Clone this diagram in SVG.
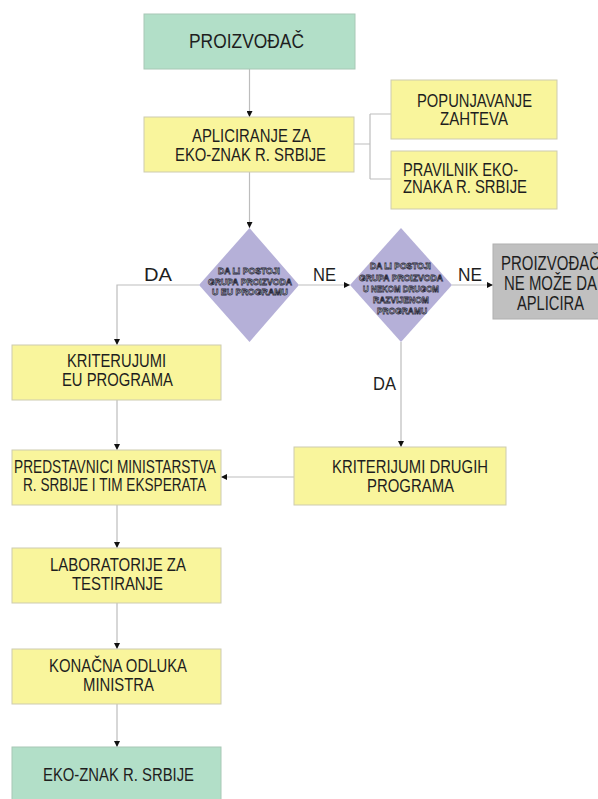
<svg xmlns="http://www.w3.org/2000/svg" width="598" height="799" viewBox="0 0 598 799">
  <style>
    .box { fill: #f9f59c; stroke: #cdcbb0; stroke-width: 1; }
    .green { fill: #b2dfc8; stroke: #a8c8b6; stroke-width: 1; }
    .gray { fill: #c0c0c0; stroke: #b0b0b0; stroke-width: 1; }
    .dia { fill: #b5b0d8; stroke: none; }
    .t { font-family: "Liberation Sans", Arial, sans-serif; fill: #1e1e1e; text-anchor: middle; }
    .tl { font-family: "Liberation Sans", Arial, sans-serif; fill: #1e1e1e; }
    .m { font-size: 18px; }
    .d { font-family: "Liberation Sans", Arial, sans-serif; font-size: 9.5px; font-weight: bold; fill: #fafaff; stroke: #2a2a3c; stroke-width: 0.8; text-anchor: middle; }
    .lbl { font-family: "Liberation Sans", Arial, sans-serif; font-size: 18.5px; fill: #1e1e1e; }
    .ln { fill: none; stroke: #bdbdbd; stroke-width: 1.2; }
  </style>
  <defs>
    <marker id="arr" markerWidth="7" markerHeight="6" refX="6" refY="3" orient="auto" markerUnits="userSpaceOnUse">
      <path d="M0,0 L6,3 L0,6 Z" fill="#111"/>
    </marker>
  </defs>

  <g id="connectors">
    <line class="ln" x1="249.5" y1="69" x2="249.5" y2="117" marker-end="url(#arr)"/>
    <path class="ln" d="M354,144 H370 M370,114 V179 M370,114 H391 M370,179 H391"/>
    <line class="ln" x1="249.5" y1="172" x2="249.5" y2="228" marker-end="url(#arr)"/>
    <path class="ln" d="M199,285 H117 V345" marker-end="url(#arr)"/>
    <line class="ln" x1="299" y1="285" x2="350" y2="285" marker-end="url(#arr)"/>
    <line class="ln" x1="452" y1="285" x2="493" y2="285" marker-end="url(#arr)"/>
    <line class="ln" x1="401" y1="342" x2="401" y2="447" marker-end="url(#arr)"/>
    <line class="ln" x1="294" y1="477" x2="221" y2="477" marker-end="url(#arr)"/>
    <line class="ln" x1="117" y1="400" x2="117" y2="450" marker-end="url(#arr)"/>
    <line class="ln" x1="117" y1="505" x2="117" y2="548" marker-end="url(#arr)"/>
    <line class="ln" x1="117" y1="603" x2="117" y2="649" marker-end="url(#arr)"/>
    <line class="ln" x1="117" y1="704" x2="117" y2="747" marker-end="url(#arr)"/>
    <text class="lbl" x="144" y="281" textLength="28" lengthAdjust="spacingAndGlyphs">DA</text>
    <text class="lbl" x="313" y="281" textLength="23" lengthAdjust="spacingAndGlyphs">NE</text>
    <text class="lbl" x="458" y="281" textLength="24" lengthAdjust="spacingAndGlyphs">NE</text>
    <text class="lbl" x="373" y="390" textLength="23" lengthAdjust="spacingAndGlyphs">DA</text>
  </g>

  <g id="proizvodjac">
    <rect class="green" x="144" y="14" width="211" height="55"/>
    <text class="t" x="246.5" y="48" font-size="19.5" textLength="115" lengthAdjust="spacingAndGlyphs">PROIZVOĐAČ</text>
  </g>

  <g id="apliciranje">
    <rect class="box" x="144" y="117" width="210" height="55"/>
    <text class="t m" x="251.5" y="142" textLength="119" lengthAdjust="spacingAndGlyphs">APLICIRANJE ZA</text>
    <text class="t m" x="250.5" y="161" textLength="151" lengthAdjust="spacingAndGlyphs">EKO-ZNAK R. SRBIJE</text>
  </g>

  <g id="popunjavanje">
    <rect class="box" x="391" y="80" width="166" height="59"/>
    <text class="t m" x="474.5" y="107" textLength="115" lengthAdjust="spacingAndGlyphs">POPUNJAVANJE</text>
    <text class="t m" x="474" y="125" textLength="68" lengthAdjust="spacingAndGlyphs">ZAHTEVA</text>
  </g>

  <g id="pravilnik">
    <rect class="box" x="391" y="151" width="166" height="58"/>
    <text class="tl m" x="403" y="176" textLength="115" lengthAdjust="spacingAndGlyphs">PRAVILNIK EKO-</text>
    <text class="tl m" x="403" y="193" textLength="124" lengthAdjust="spacingAndGlyphs">ZNAKA R. SRBIJE</text>
  </g>

  <g id="pitanje-eu">
    <polygon class="dia" points="249.5,228 299,285 249.5,342 199,285"/>
    <text class="d" x="249" y="273.5" textLength="62" lengthAdjust="spacingAndGlyphs">DA LI POSTOJI</text>
    <text class="d" x="250" y="284.5" textLength="84" lengthAdjust="spacingAndGlyphs">GRUPA PROIZVODA</text>
    <text class="d" x="250" y="294.5" textLength="76" lengthAdjust="spacingAndGlyphs">U EU PROGRAMU</text>
  </g>

  <g id="pitanje-drugi">
    <polygon class="dia" points="401,228 452,285 401,342 350,285"/>
    <text class="d" x="400.5" y="268.5" textLength="61" lengthAdjust="spacingAndGlyphs">DA LI POSTOJI</text>
    <text class="d" x="401" y="280.5" textLength="84" lengthAdjust="spacingAndGlyphs">GRUPA PROIZVODA</text>
    <text class="d" x="401" y="291.5" textLength="76" lengthAdjust="spacingAndGlyphs">U NEKOM DRUGOM</text>
    <text class="d" x="401" y="302.5" textLength="56" lengthAdjust="spacingAndGlyphs">RAZVIJENOM</text>
    <text class="d" x="402" y="313.5" textLength="50" lengthAdjust="spacingAndGlyphs">PROGRAMU</text>
  </g>

  <g id="ne-moze">
    <rect class="gray" x="493" y="244" width="115" height="75"/>
    <text class="t" x="550.5" y="270" font-size="20" textLength="99" lengthAdjust="spacingAndGlyphs">PROIZVOĐAČ</text>
    <text class="t" x="550.5" y="290" font-size="20" textLength="93" lengthAdjust="spacingAndGlyphs">NE MOŽE DA</text>
    <text class="t" x="550.5" y="310" font-size="20" textLength="67" lengthAdjust="spacingAndGlyphs">APLICIRA</text>
  </g>

  <g id="kriterijumi-eu">
    <rect class="box" x="12" y="345" width="209" height="55"/>
    <text class="t m" x="116.5" y="367" textLength="99" lengthAdjust="spacingAndGlyphs">KRITERUJUMI</text>
    <text class="t m" x="117.5" y="386" textLength="111" lengthAdjust="spacingAndGlyphs">EU PROGRAMA</text>
  </g>

  <g id="kriterijumi-drugi">
    <rect class="box" x="294" y="447" width="212" height="58"/>
    <text class="t m" x="410" y="473" textLength="156" lengthAdjust="spacingAndGlyphs">KRITERIJUMI DRUGIH</text>
    <text class="t m" x="410.5" y="492" textLength="87" lengthAdjust="spacingAndGlyphs">PROGRAMA</text>
  </g>

  <g id="predstavnici">
    <rect class="box" x="12" y="450" width="209" height="55"/>
    <text class="t m" x="115" y="473" textLength="202" lengthAdjust="spacingAndGlyphs">PREDSTAVNICI MINISTARSTVA</text>
    <text class="t m" x="114.5" y="491" textLength="183" lengthAdjust="spacingAndGlyphs">R. SRBIJE I TIM EKSPERATA</text>
  </g>

  <g id="laboratorije">
    <rect class="box" x="12" y="548" width="209" height="55"/>
    <text class="t m" x="118" y="571" textLength="136" lengthAdjust="spacingAndGlyphs">LABORATORIJE ZA</text>
    <text class="t m" x="117.5" y="590" textLength="91" lengthAdjust="spacingAndGlyphs">TESTIRANJE</text>
  </g>

  <g id="odluka">
    <rect class="box" x="12" y="649" width="209" height="55"/>
    <text class="t m" x="118" y="672" textLength="138" lengthAdjust="spacingAndGlyphs">KONAČNA ODLUKA</text>
    <text class="t m" x="118.5" y="691" textLength="71" lengthAdjust="spacingAndGlyphs">MINISTRA</text>
  </g>

  <g id="eko-znak">
    <rect class="green" x="12" y="747" width="209" height="60"/>
    <text class="t m" x="118.5" y="781" textLength="151" lengthAdjust="spacingAndGlyphs">EKO-ZNAK R. SRBIJE</text>
  </g>
</svg>
